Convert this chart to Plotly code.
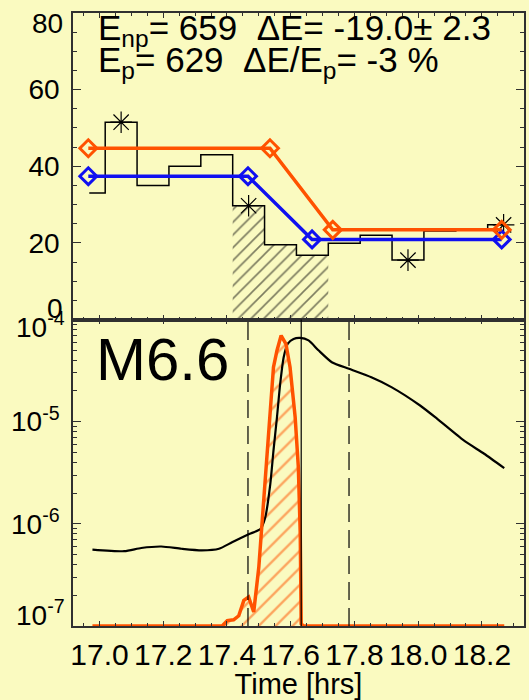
import math
import plotly.graph_objects as go

FONT = "Liberation Sans, Arial, Helvetica, sans-serif"
BG = "#FAFAC0"
ORANGE = "#FF5200"
BLUE = "#1010F0"
FRAME = "#303030"

# ---- upper panel: binned counts (step histogram) ----
hist_t = [16.968, 17.068, 17.168, 17.268, 17.368, 17.468, 17.568,
          17.668, 17.768, 17.868, 17.968, 18.068, 18.168, 18.268]
hist_v = [33.0, 51.5, 35.0, 40.0, 43.0, 29.7, 19.5,
          16.8, 19.9, 22.0, 15.5, 23.1, 23.4, 24.7]
star_idx = [1, 5, 10, 13]      # bins marked with an asterisk
hatch_idx = [5, 6, 7]          # bins shaded during the flare

# piecewise fits (non-parametric and parametric)
fit_np_t = [16.965, 17.466, 17.667, 18.262]
fit_np_v = [37.4, 37.4, 20.9, 20.9]
fit_p_t = [16.965, 17.535, 17.732, 18.262]
fit_p_v = [44.7, 44.7, 23.4, 23.4]

count_ticks = [0, 20, 40, 60, 80]
count_labels = ["0", "20", "40", "60", "80"]

# ---- lower panel: GOES soft X-ray flux and its derivative ----
goes_t = [16.978, 17.078, 17.131, 17.194, 17.257, 17.321, 17.375, 17.416,
          17.468, 17.505, 17.520, 17.536, 17.546, 17.557, 17.567, 17.578,
          17.591, 17.609, 17.630, 17.656, 17.687, 17.729, 17.783, 17.853,
          17.916, 18.006, 18.059, 18.143, 18.207, 18.270]
goes_flux = [5.6e-7, 5.4e-7, 5.8e-7, 6.0e-7, 5.7e-7, 5.5e-7, 5.7e-7, 6.6e-7,
             7.9e-7, 8.9e-7, 1.15e-6, 2.45e-6, 5.2e-6, 1.11e-5, 2.34e-5, 4.27e-5,
             5.8e-5, 6.45e-5, 6.6e-5, 6.24e-5, 5.0e-5, 3.82e-5, 3.29e-5, 2.72e-5,
             2.18e-5, 1.44e-5, 1.07e-5, 6.55e-6, 4.85e-6, 3.51e-6]

deriv_t = [16.978, 17.385, 17.401, 17.421, 17.437, 17.453, 17.468, 17.484,
           17.500, 17.515, 17.531, 17.546, 17.557, 17.570, 17.585, 17.598,
           17.614, 17.624, 17.630, 17.633, 17.640, 18.270]
deriv_flux = [1e-7, 1e-7, 1.13e-7, 1.15e-7, 1.26e-7, 1.78e-7, 1.92e-7, 1.37e-7,
              3.77e-7, 1.69e-6, 7.6e-6, 3.41e-5, 4.98e-5, 6.97e-5, 5.78e-5, 3.41e-5,
              1.11e-5, 3.59e-6, 8.0e-7, 1.05e-7, 1e-7, 1e-7]

flux_ticks = [1e-7, 1e-6, 1e-5, 1e-4]
flux_labels = ["10<sup>-7</sup>", "10<sup>-6</sup>", "10<sup>-5</sup>", "10<sup>-4</sup>"]

time_ticks = [17.0, 17.2, 17.4, 17.6, 17.8, 18.0, 18.2]
time_labels = ["17.0", "17.2", "17.4", "17.6", "17.8", "18.0", "18.2"]

# flare interval: start, peak, end
flare_times = [17.466, 17.633, 17.783]
flare_dash = ["dash", "solid", "dash"]

YTICK_SIZE = 28
XTICK_SIZE = 30

fig = go.Figure()

# hatched area under the flare bins
hx, hy = [], []
for i in hatch_idx:
    left = (hist_t[i - 1] + hist_t[i]) / 2
    right = (hist_t[i] + hist_t[i + 1]) / 2
    hx += [left, right]
    hy += [hist_v[i], hist_v[i]]
fig.add_trace(go.Scatter(
    x=hx, y=hy, mode="lines", line=dict(width=0, shape="hv"),
    fill="tozeroy", fillcolor="rgba(0,0,0,0)",
    fillpattern=dict(shape="/", fgcolor="black", bgcolor="rgba(0,0,0,0)",
                     size=9, solidity=0.18),
    xaxis="x", yaxis="y", hoverinfo="skip"))

fig.add_trace(go.Scatter(
    x=hist_t, y=hist_v, mode="lines",
    line=dict(color="black", width=1.5, shape="hvh"),
    xaxis="x", yaxis="y"))

fig.add_trace(go.Scatter(
    x=[hist_t[i] for i in star_idx], y=[hist_v[i] for i in star_idx],
    mode="markers",
    marker=dict(symbol="asterisk-open", size=18, color="black",
                line=dict(color="black", width=1.2)),
    xaxis="x", yaxis="y"))

fig.add_trace(go.Scatter(
    x=fit_np_t, y=fit_np_v, mode="lines+markers",
    line=dict(color=BLUE, width=3.5),
    marker=dict(symbol="diamond-open", size=13, color=BLUE,
                line=dict(color=BLUE, width=3)),
    cliponaxis=False, xaxis="x", yaxis="y"))

fig.add_trace(go.Scatter(
    x=fit_p_t, y=fit_p_v, mode="lines+markers",
    line=dict(color=ORANGE, width=3.5),
    marker=dict(symbol="diamond-open", size=13, color=ORANGE,
                line=dict(color=ORANGE, width=3)),
    cliponaxis=False, xaxis="x", yaxis="y"))

# lower panel: hatched derivative, GOES flux, derivative outline
fig.add_trace(go.Scatter(
    x=deriv_t, y=deriv_flux, mode="lines", line=dict(width=0),
    fill="toself", fillcolor="rgba(0,0,0,0)",
    fillpattern=dict(shape="/", fgcolor=ORANGE, bgcolor="rgba(0,0,0,0)",
                     size=12, solidity=0.2),
    xaxis="x2", yaxis="y2", hoverinfo="skip"))

fig.add_trace(go.Scatter(
    x=goes_t, y=goes_flux, mode="lines",
    line=dict(color="black", width=2.2, shape="spline", smoothing=0.6),
    xaxis="x2", yaxis="y2"))

fig.add_trace(go.Scatter(
    x=deriv_t, y=deriv_flux, mode="lines",
    line=dict(color=ORANGE, width=3.5),
    xaxis="x2", yaxis="y2"))

for t, d in zip(flare_times, flare_dash):
    fig.add_shape(type="line", xref="x2", yref="y2 domain",
                  x0=t, x1=t, y0=0, y1=1,
                  line=dict(color="black", width=1.2,
                            dash="18px,8px" if d == "dash" else "solid"))

axis_common = dict(showline=True, linecolor=FRAME, linewidth=1.5,
                   mirror="ticks", ticks="inside", tickcolor=FRAME,
                   showgrid=False, zeroline=False)

log_minor = [m * 10.0 ** e for e in range(-7, -4) for m in range(2, 10)]

fig.update_layout(
    width=529, height=700,
    margin=dict(l=73, r=3, t=13, b=74),
    paper_bgcolor=BG, plot_bgcolor=BG,
    showlegend=False,
    font=dict(family=FONT, size=26, color="black"),
    xaxis=dict(domain=[0, 1], anchor="y", range=[16.917, 18.332],
               tickvals=time_ticks, showticklabels=False,
               ticklen=5, tickwidth=1.2,
               minor=dict(dtick=0.05, tick0=17.0, ticklen=3, tickcolor=FRAME,
                          ticks="inside"),
               **axis_common),
    yaxis=dict(domain=[0.5, 1], anchor="x", range=[0, 80],
               tickvals=count_ticks[1:-1], ticktext=count_labels[1:-1],
               tickfont=dict(size=YTICK_SIZE),
               ticklen=8, tickwidth=1.2, ticklabelstandoff=6,
               minor=dict(dtick=5, ticklen=4, tickcolor=FRAME, ticks="inside"),
               **axis_common),
    xaxis2=dict(domain=[0, 1], anchor="y2", matches="x", range=[16.917, 18.332],
                tickvals=time_ticks, ticktext=time_labels,
                tickfont=dict(size=XTICK_SIZE),
                ticklen=5, tickwidth=1.2, ticklabelstandoff=1,
                minor=dict(dtick=0.05, tick0=17.0, ticklen=3, tickcolor=FRAME,
                           ticks="inside"),
                title=dict(text="Time [hrs]", font=dict(size=29), standoff=2),
                **axis_common),
    yaxis2=dict(domain=[0, 0.5], anchor="x2", type="log", range=[-7, -4],
                tickvals=flux_ticks[1:-1], ticktext=flux_labels[1:-1],
                tickfont=dict(size=YTICK_SIZE),
                ticklen=8, tickwidth=1.2, ticklabelstandoff=6,
                minor=dict(tickmode="array", tickvals=log_minor, ticklen=4,
                           tickcolor=FRAME, ticks="inside"),
                **axis_common),
)

# end-of-axis labels, nudged inward so they stay within their panel
for val, lab, shift in [(count_ticks[0], count_labels[0], 11),
                        (count_ticks[-1], count_labels[-1], -10)]:
    fig.add_annotation(x=0, xref="paper", y=val, yref="y", text=lab,
                       xanchor="right", yanchor="middle", xshift=-8, yshift=shift,
                       showarrow=False, font=dict(size=YTICK_SIZE))
for val, lab, shift in [(flux_ticks[0], flux_labels[0], 13),
                        (flux_ticks[-1], flux_labels[-1], -5)]:
    fig.add_annotation(x=0, xref="paper", y=math.log10(val), yref="y2", text=lab,
                       xanchor="right", yanchor="middle", xshift=-6, yshift=shift,
                       showarrow=False, font=dict(size=YTICK_SIZE))

NB = "\u00a0"
fig.add_annotation(
    x=0.05, xref="paper", y=75.5, yref="y", xanchor="left", yanchor="middle",
    text=f"E<sub>np</sub>= 659{NB}{NB}ΔE= -19.0± 2.3", showarrow=False,
    font=dict(size=35))
fig.add_annotation(
    x=0.05, xref="paper", y=67.1, yref="y", xanchor="left", yanchor="middle",
    text=f"E<sub>p</sub>= 629{NB}{NB}ΔE/E<sub>p</sub>= -3 %", showarrow=False,
    font=dict(size=35))
fig.add_annotation(
    x=0.047, xref="paper", y=-4.39, yref="y2", xanchor="left", yanchor="middle",
    text="M6.6", showarrow=False, font=dict(size=60))

fig.write_html("out.html")
